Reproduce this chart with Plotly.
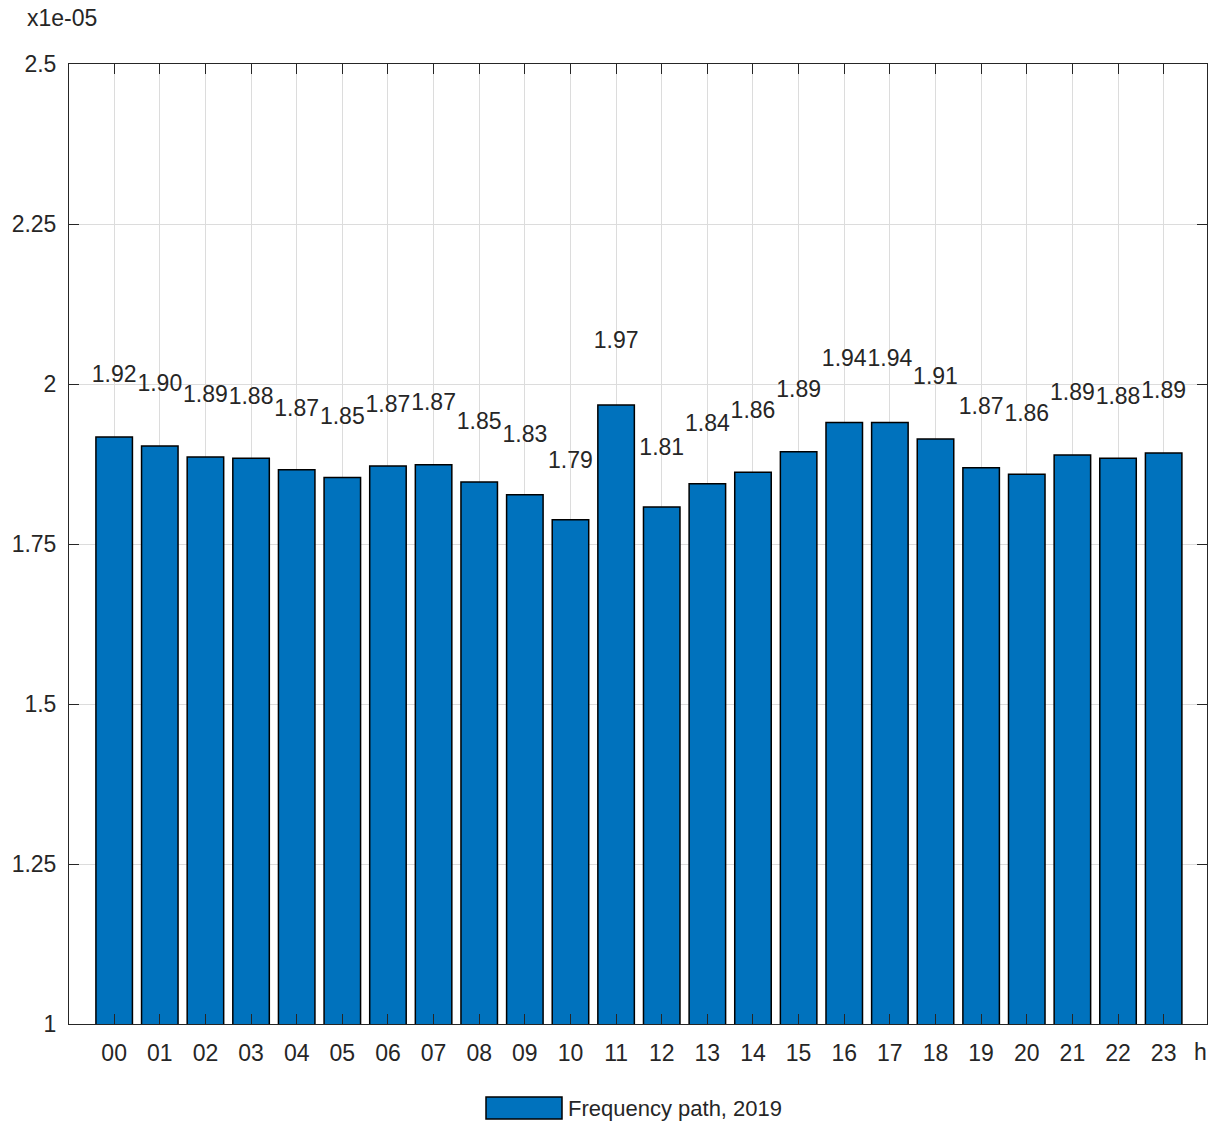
import plotly.graph_objects as go

hours = ["00", "01", "02", "03", "04", "05", "06", "07", "08", "09", "10", "11",
         "12", "13", "14", "15", "16", "17", "18", "19", "20", "21", "22", "23"]
values = [1.917, 1.903, 1.886, 1.884, 1.866, 1.854, 1.872, 1.874, 1.847, 1.827, 1.788, 1.967,
          1.808, 1.844, 1.862, 1.894, 1.940, 1.940, 1.914, 1.869, 1.859, 1.889, 1.884, 1.892]
y_ticks = [1, 1.25, 1.5, 1.75, 2, 2.25, 2.5]
y_ticktext = ["1", "1.25", "1.5", "1.75", "2", "2.25", "2.5"]
series_name = "Frequency path, 2019"

FONT = "Liberation Sans, Arial, sans-serif"
TXT = "#262626"
BLUE = "#0072BD"
FS = 23

fig = go.Figure()
fig.add_trace(go.Bar(
    x=hours, y=values, name=series_name, width=0.8,
    marker=dict(color=BLUE, line=dict(color="#000000", width=1.5)),
    showlegend=False,
))
fig.add_trace(go.Scatter(
    x=hours, y=[v * 1.05 for v in values], mode="text",
    text=[f"{v:.2f}" for v in values], textposition="middle center",
    textfont=dict(family=FONT, size=FS, color=TXT),
    showlegend=False, hoverinfo="skip",
))

axis_common = dict(
    showline=True, linecolor=TXT, linewidth=1, mirror="ticks",
    ticks="inside", ticklen=10, tickcolor=TXT, tickwidth=1,
    showgrid=True, gridcolor="#dcdcdc", gridwidth=1,
    tickfont=dict(family=FONT, size=FS, color=TXT),
    zeroline=False,
)

L, R, T, B = 69, 1207, 64, 1024

fig.update_layout(
    width=1209, height=1122,
    margin=dict(l=L, r=1209 - R, t=T, b=1122 - B),
    paper_bgcolor="white", plot_bgcolor="white",
    bargap=0.2,
    xaxis=dict(type="category", range=[-0.99, 23.95], ticklabelstandoff=8, **axis_common),
    yaxis=dict(range=[1, 2.5], tickvals=y_ticks, ticktext=y_ticktext,
               ticklabelstandoff=7, **axis_common),
    font=dict(family=FONT, color=TXT),
)


def px_x(p):
    return (p - L) / (R - L)


def px_y(p):
    return (B - p) / (B - T)


# exponent label and x-axis unit label
fig.add_annotation(x=px_x(25), y=px_y(18), xref="paper", yref="paper", text="x1e-05",
                   showarrow=False, xanchor="left", yanchor="middle",
                   font=dict(family=FONT, size=FS, color=TXT))
fig.add_annotation(x=px_x(1200), y=px_y(1052), xref="paper", yref="paper", text="h",
                   showarrow=False, xanchor="center", yanchor="middle",
                   font=dict(family=FONT, size=FS, color=TXT))

# legend (swatch with its label, below the plot)
fig.add_shape(type="rect", xref="paper", yref="paper",
              x0=px_x(486), x1=px_x(562), y0=px_y(1119), y1=px_y(1097),
              fillcolor=BLUE, line=dict(color="#000000", width=1.5))
fig.add_annotation(x=px_x(566), y=px_y(1108), xref="paper", yref="paper",
                   text=series_name, showarrow=False, xanchor="left", yanchor="middle",
                   font=dict(family=FONT, size=FS - 1, color=TXT))

fig.write_html("out.html", config={"displayModeBar": False},
               post_script="document.body.style.margin='0';")
